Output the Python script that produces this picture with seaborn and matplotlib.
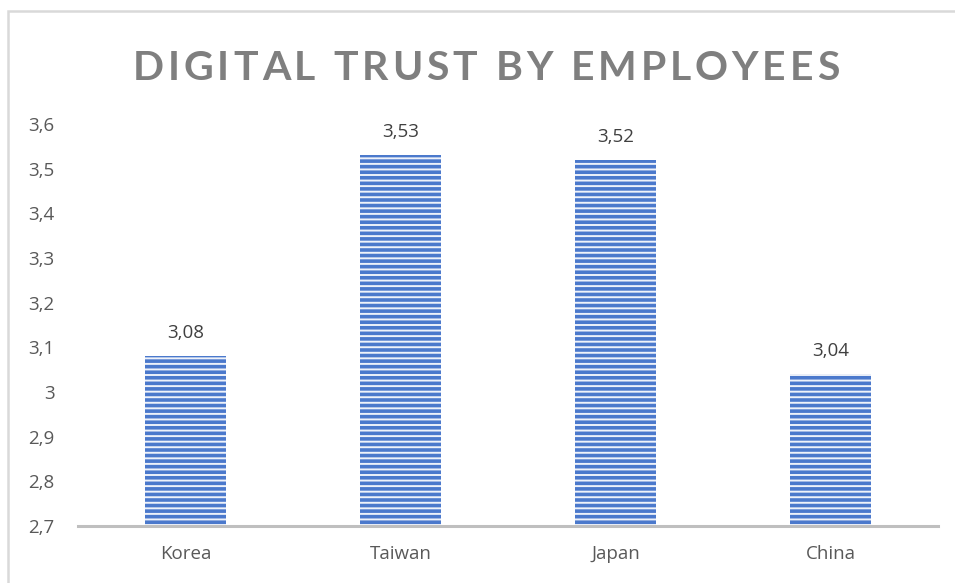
import matplotlib
matplotlib.use("Agg")
import matplotlib.pyplot as plt
import matplotlib.ticker as mticker
from matplotlib.patches import Rectangle
import pandas as pd
import seaborn as sns

# Average digital-trust score per country
countries = ["Korea", "Taiwan", "Japan", "China"]
scores = [3.08, 3.53, 3.52, 3.04]
title = "DIGITAL TRUST BY EMPLOYEES"

sns.set_theme(style="white")
plt.rcParams["font.family"] = ["Open Sans", "DejaVu Sans"]
plt.rcParams["hatch.linewidth"] = 1.4

df = pd.DataFrame({"country": countries, "score": scores})

fig = plt.figure(figsize=(9.55, 5.83), dpi=100)
ax = fig.add_axes([0.0817, 0.0978, 0.9005, 0.6895])

sns.barplot(data=df, x="country", y="score", ax=ax, width=0.38,
            color="#4472C4", saturation=1, edgecolor="#EEF2FA",
            linewidth=0, hatch="---")
for bar in ax.patches:
    bar.set_facecolor("#4B79CC")

ax.set_ylim(2.7, 3.6)
ax.set_xlim(-0.5, 3.5)
ax.yaxis.set_major_locator(mticker.MultipleLocator(0.1))

def comma_fmt(v, _pos=None):
    s = f"{v:.1f}".rstrip("0").rstrip(".")
    return s.replace(".", ",")

ax.yaxis.set_major_formatter(mticker.FuncFormatter(comma_fmt))

ax.bar_label(ax.containers[0],
             labels=[f"{v:.2f}".replace(".", ",") for v in scores],
             padding=10, fontsize=13.5, color="#404040")

ax.set_xlabel("")
ax.set_ylabel("")
for side in ["left", "right", "top"]:
    ax.spines[side].set_visible(False)
ax.spines["bottom"].set_color("#BFBFBF")
ax.spines["bottom"].set_linewidth(2.2)
ax.tick_params(axis="y", length=0, pad=17, labelsize=13.5, labelcolor="#595959")
ax.tick_params(axis="x", length=0, pad=14, labelsize=13.5, labelcolor="#595959")

# letter-spaced heading: each glyph placed along a widened advance
title_kw = dict(fontsize=29.5, fontweight="bold", color="#7F7F7F",
                family=["Lato", "DejaVu Sans"])
renderer = fig.canvas.get_renderer()

def text_width(s):
    t = fig.text(0, 0, s, **title_kw)
    w = t.get_window_extent(renderer).width
    t.remove()
    return w

full_w = text_width(title)
target_w = 707
gap = (target_w - full_w) / (len(title) - 1)
x0 = 486 - target_w / 2
y_title = 1 - 80 / 583
for i, ch in enumerate(title):
    if ch == " ":
        continue
    x_right = x0 + text_width(title[:i + 1]) + i * gap
    fig.text(x_right / 955, y_title, ch, ha="right", va="baseline", **title_kw)

# light chart-area frame
fig.patches.append(Rectangle((7.5 / 955, -0.05), 1.0, 1 - 11 / 583 + 0.05,
                             transform=fig.transFigure, fill=False,
                             edgecolor="#D9D9D9", linewidth=1.8))

fig.savefig("out.png", dpi=100)
